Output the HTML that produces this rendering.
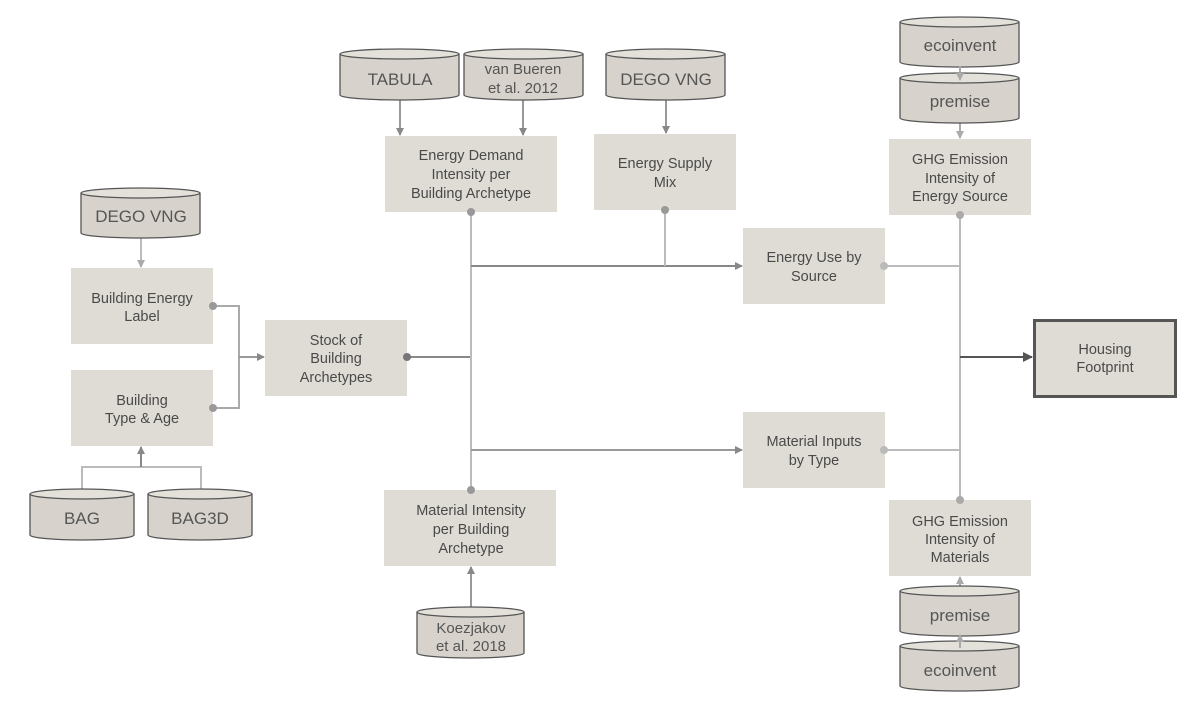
<!DOCTYPE html>
<html><head><meta charset="utf-8"><style>
html,body{margin:0;padding:0;background:#fff;width:1192px;height:703px;overflow:hidden}
svg text{font-family:"Liberation Sans","DejaVu Sans",sans-serif;}
.bt{font-size:14.5px;fill:#4a4a4a;text-anchor:middle}
.ct{font-size:17px;fill:#555;text-anchor:middle}
.ct2{font-size:15px;fill:#555;text-anchor:middle}
</style></head><body>
<svg width="1192" height="703" viewBox="0 0 1192 703" xmlns="http://www.w3.org/2000/svg">
<defs>
<marker id="al" markerWidth="8" markerHeight="8" refX="7" refY="4" orient="auto" markerUnits="userSpaceOnUse"><path d="M0,0 L8,4 L0,8 z" fill="#aaa"/></marker>
<marker id="am" markerWidth="8" markerHeight="8" refX="7" refY="4" orient="auto" markerUnits="userSpaceOnUse"><path d="M0,0 L8,4 L0,8 z" fill="#888"/></marker>
<marker id="ad" markerWidth="10" markerHeight="10" refX="9" refY="5" orient="auto" markerUnits="userSpaceOnUse"><path d="M0,0 L10,5 L0,10 z" fill="#555"/></marker>
</defs>
<g fill="none" stroke-width="2">
<line x1="141" y1="238" x2="141" y2="267" stroke="#bbb" marker-end="url(#al)"/>
<polyline points="213,306 239,306 239,408 213,408" stroke="#aaa"/>
<line x1="239" y1="357" x2="264" y2="357" stroke="#999" marker-end="url(#am)"/>
<polyline points="82,489 82,467 201,467 201,489" stroke="#bbb"/>
<line x1="141" y1="467" x2="141" y2="447" stroke="#888" marker-end="url(#am)"/>
<line x1="407" y1="357" x2="471" y2="357" stroke="#888"/>
<line x1="471" y1="212" x2="471" y2="490" stroke="#bbb"/>
<line x1="471" y1="266" x2="742" y2="266" stroke="#888" marker-end="url(#am)"/>
<line x1="471" y1="450" x2="742" y2="450" stroke="#999" marker-end="url(#am)"/>
<line x1="665" y1="210" x2="665" y2="266" stroke="#bbb"/>
<line x1="400" y1="100" x2="400" y2="135" stroke="#999" marker-end="url(#am)"/>
<line x1="523" y1="100" x2="523" y2="135" stroke="#999" marker-end="url(#am)"/>
<line x1="666" y1="100" x2="666" y2="133" stroke="#999" marker-end="url(#am)"/>
<line x1="471" y1="607" x2="471" y2="567" stroke="#999" marker-end="url(#am)"/>
<line x1="960" y1="215" x2="960" y2="500" stroke="#bbb"/>
<line x1="884" y1="266" x2="960" y2="266" stroke="#bbb"/>
<line x1="884" y1="450" x2="960" y2="450" stroke="#bbb"/>
<line x1="960" y1="357" x2="1032" y2="357" stroke="#555" marker-end="url(#ad)"/>
<line x1="960" y1="122" x2="960" y2="138" stroke="#aaa" marker-end="url(#al)"/>
<line x1="960" y1="596" x2="960" y2="577" stroke="#aaa" marker-end="url(#al)"/>
</g>
<g fill="#dfdcd5">
<rect x="71" y="268" width="142" height="76"/>
<rect x="71" y="370" width="142" height="76"/>
<rect x="265" y="320" width="142" height="76"/>
<rect x="385" y="136" width="172" height="76"/>
<rect x="594" y="134" width="142" height="76"/>
<rect x="743" y="228" width="142" height="76"/>
<rect x="743" y="412" width="142" height="76"/>
<rect x="384" y="490" width="172" height="76"/>
<rect x="889" y="139" width="142" height="76"/>
<rect x="889" y="500" width="142" height="76"/>
</g>
<rect x="1034.5" y="320.5" width="141" height="76" fill="#dfdcd5" stroke="#555" stroke-width="3"/>
<g fill="#999">
<circle cx="213" cy="306" r="4"/><circle cx="213" cy="408" r="4"/>
<circle cx="407" cy="357" r="4" fill="#777"/>
<circle cx="471" cy="212" r="4"/><circle cx="471" cy="490" r="4"/>
<circle cx="665" cy="210" r="4"/>
<circle cx="884" cy="266" r="4" fill="#bbb"/><circle cx="884" cy="450" r="4" fill="#bbb"/>
<circle cx="960" cy="215" r="4" fill="#aaa"/><circle cx="960" cy="500" r="4" fill="#aaa"/>
</g>
<g stroke="#555" stroke-width="1.3" fill="#d7d3cc">
<path d="M81,193 v40 a59.5,5 0 0 0 119,0 v-40"/><ellipse cx="140.5" cy="193" rx="59.5" ry="5" fill="#e4e1db"/>
<path d="M30,494 v41 a52,5 0 0 0 104,0 v-41"/><ellipse cx="82" cy="494" rx="52" ry="5" fill="#e4e1db"/>
<path d="M148,494 v41 a52,5 0 0 0 104,0 v-41"/><ellipse cx="200" cy="494" rx="52" ry="5" fill="#e4e1db"/>
<path d="M340,54 v41 a59.5,5 0 0 0 119,0 v-41"/><ellipse cx="399.5" cy="54" rx="59.5" ry="5" fill="#e4e1db"/>
<path d="M464,54 v41 a59.5,5 0 0 0 119,0 v-41"/><ellipse cx="523.5" cy="54" rx="59.5" ry="5" fill="#e4e1db"/>
<path d="M606,54 v41 a59.5,5 0 0 0 119,0 v-41"/><ellipse cx="665.5" cy="54" rx="59.5" ry="5" fill="#e4e1db"/>
<path d="M417,612 v41 a53.5,5 0 0 0 107,0 v-41"/><ellipse cx="470.5" cy="612" rx="53.5" ry="5" fill="#e4e1db"/>
<path d="M900,22 v40 a59.5,5 0 0 0 119,0 v-40"/><ellipse cx="959.5" cy="22" rx="59.5" ry="5" fill="#e4e1db"/>
<path d="M900,78 v40 a59.5,5 0 0 0 119,0 v-40"/><ellipse cx="959.5" cy="78" rx="59.5" ry="5" fill="#e4e1db"/>
<path d="M900,591 v40 a59.5,5 0 0 0 119,0 v-40"/><ellipse cx="959.5" cy="591" rx="59.5" ry="5" fill="#e4e1db"/>
<path d="M900,646 v40 a59.5,5 0 0 0 119,0 v-40"/><ellipse cx="959.5" cy="646" rx="59.5" ry="5" fill="#e4e1db"/>
</g>
<g fill="none" stroke-width="2">
<line x1="960" y1="66" x2="960" y2="80" stroke="#aaa" marker-end="url(#al)"/>
<line x1="960" y1="648" x2="960" y2="635" stroke="#aaa" marker-end="url(#al)"/>
</g>
<text class="ct" x="141" y="222">DEGO VNG</text>
<text class="ct" x="82" y="524">BAG</text>
<text class="ct" x="200" y="524">BAG3D</text>
<text class="ct" x="400" y="85">TABULA</text>
<text class="ct2" x="523" y="74">van Bueren</text>
<text class="ct2" x="523" y="93">et al. 2012</text>
<text class="ct" x="666" y="85">DEGO VNG</text>
<text class="ct2" x="471" y="633">Koezjakov</text>
<text class="ct2" x="471" y="651">et al. 2018</text>
<text class="ct" x="960" y="51">ecoinvent</text>
<text class="ct" x="960" y="107">premise</text>
<text class="ct" x="960" y="621">premise</text>
<text class="ct" x="960" y="676">ecoinvent</text>
<text class="bt" x="142" y="303">Building Energy</text><text class="bt" x="142" y="321">Label</text>
<text class="bt" x="142" y="405">Building</text><text class="bt" x="142" y="423">Type &amp; Age</text>
<text class="bt" x="336" y="345">Stock of</text><text class="bt" x="336" y="363">Building</text><text class="bt" x="336" y="382">Archetypes</text>
<text class="bt" x="471" y="160">Energy Demand</text><text class="bt" x="471" y="179">Intensity per</text><text class="bt" x="471" y="198">Building Archetype</text>
<text class="bt" x="665" y="168">Energy Supply</text><text class="bt" x="665" y="187">Mix</text>
<text class="bt" x="814" y="262">Energy Use by</text><text class="bt" x="814" y="281">Source</text>
<text class="bt" x="814" y="446">Material Inputs</text><text class="bt" x="814" y="465">by Type</text>
<text class="bt" x="471" y="515">Material Intensity</text><text class="bt" x="471" y="534">per Building</text><text class="bt" x="471" y="553">Archetype</text>
<text class="bt" x="960" y="164">GHG Emission</text><text class="bt" x="960" y="183">Intensity of</text><text class="bt" x="960" y="201">Energy Source</text>
<text class="bt" x="960" y="526">GHG Emission</text><text class="bt" x="960" y="544">Intensity of</text><text class="bt" x="960" y="562">Materials</text>
<text class="bt" x="1105" y="354">Housing</text><text class="bt" x="1105" y="372">Footprint</text>
</svg>
</body></html>
